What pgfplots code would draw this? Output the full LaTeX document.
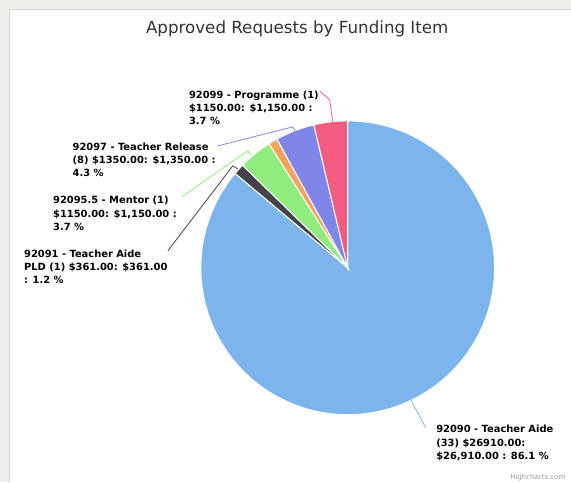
\documentclass[border=0pt]{standalone}
\usepackage{pgfplots}
\pgfplotsset{compat=1.18}
\usepackage{pgfplotstable}
\usepackage{fontspec}
\setmainfont{DejaVu Sans}
\definecolor{hcblue}{HTML}{7CB5EC}
\definecolor{hcdark}{HTML}{434348}
\definecolor{hcgreen}{HTML}{90ED7D}
\definecolor{hcorange}{HTML}{F7A35C}
\definecolor{hcpurple}{HTML}{8085E9}
\definecolor{hcpink}{HTML}{F15C80}
\definecolor{bggray}{HTML}{EFEEEB}
\definecolor{bordergray}{HTML}{D4D4D2}
\definecolor{titlecol}{HTML}{333333}

% share of each slice, in percent, clockwise from the top
\pgfplotstableread{
value col
86.1 hcblue
1.2  hcdark
3.7  hcgreen
1.0  hcorange
4.3  hcpurple
3.7  hcpink
}\piedata

\begin{document}
\begin{tikzpicture}
\gdef\cumA{90}\gdef\slices{}
\pgfplotstablegetrowsof{\piedata}\pgfmathtruncatemacro\nrows{\pgfplotsretval-1}
\foreach \i in {0,...,\nrows}{%
  \pgfplotstablegetelem{\i}{value}\of\piedata \let\v\pgfplotsretval
  \pgfplotstablegetelem{\i}{col}\of\piedata \let\c\pgfplotsretval
  \pgfmathsetmacro\endA{\cumA-3.6*\v}%
  \xdef\slices{\unexpanded\expandafter{\slices}\noexpand\fill[\c,draw=white,line width=1pt] (axis cs:348,268) -- ++(\cumA:147pt) arc[start angle=\cumA,end angle=\endA,radius=147pt] -- cycle;}%
  \xdef\cumA{\endA}%
}
\begin{axis}[scale only axis, width=571pt, height=482pt,
  xmin=0, xmax=571, ymin=0, ymax=482, y dir=reverse,
  hide axis, clip=false]
\fill[bggray] (axis cs:0,0) rectangle (axis cs:571,482);
\fill[white] (axis cs:10,10) rectangle (axis cs:571,482);
\draw[bordergray, line width=1pt] (axis cs:9.5,482) -- (axis cs:9.5,9.5) -- (axis cs:571,9.5);
\slices
% connectors
\draw[hcpink, line width=0.8pt] (axis cs:320,91) -- (axis cs:330,100) -- (axis cs:333,122);
\draw[hcpurple, line width=0.8pt] (axis cs:218,146) -- (axis cs:293,127) -- (axis cs:296,132);
\draw[hcgreen, line width=0.8pt] (axis cs:182,197) -- (axis cs:248,151) -- (axis cs:251,155);
\draw[hcdark, line width=0.8pt] (axis cs:168,251) -- (axis cs:233,166) -- (axis cs:238,169);
\draw[hcblue, line width=0.8pt] (axis cs:411,400) -- (axis cs:426,428);
% title
\node[anchor=base, text=titlecol, font=\fontsize{16.7}{20}\selectfont] at (axis cs:297.5,34) {Approved Requests by Funding Item};
% labels
\tikzset{lab/.style={anchor=base west, inner sep=0pt, font=\bfseries\fontsize{9.9}{13}\selectfont}}
\node[lab] at (axis cs:189,99) {92099 - Programme (1)};
\node[lab] at (axis cs:189,112) {\$1150.00: \$1,150.00 :};
\node[lab] at (axis cs:189,125) {3.7 \%};
\node[lab] at (axis cs:72.5,151) {92097 - Teacher Release};
\node[lab] at (axis cs:72.5,164) {(8) \$1350.00: \$1,350.00 :};
\node[lab] at (axis cs:72.5,177) {4.3 \%};
\node[lab] at (axis cs:53,204) {92095.5 - Mentor (1)};
\node[lab] at (axis cs:53,217.5) {\$1150.00: \$1,150.00 :};
\node[lab] at (axis cs:53,230.5) {3.7 \%};
\node[lab] at (axis cs:24,257.5) {92091 - Teacher Aide};
\node[lab] at (axis cs:24,270.5) {PLD (1) \$361.00: \$361.00};
\node[lab] at (axis cs:24,283.5) {: 1.2 \%};
\node[lab] at (axis cs:436.5,433) {92090 - Teacher Aide};
\node[lab] at (axis cs:436.5,446.5) {(33) \$26910.00:};
\node[lab] at (axis cs:436.5,460) {\$26,910.00 : 86.1 \%};
\node[anchor=base east, inner sep=0pt, text=black!40, font=\fontsize{7}{8}\selectfont] at (axis cs:566,480) {Highcharts.com};
\end{axis}
\end{tikzpicture}
\end{document}
